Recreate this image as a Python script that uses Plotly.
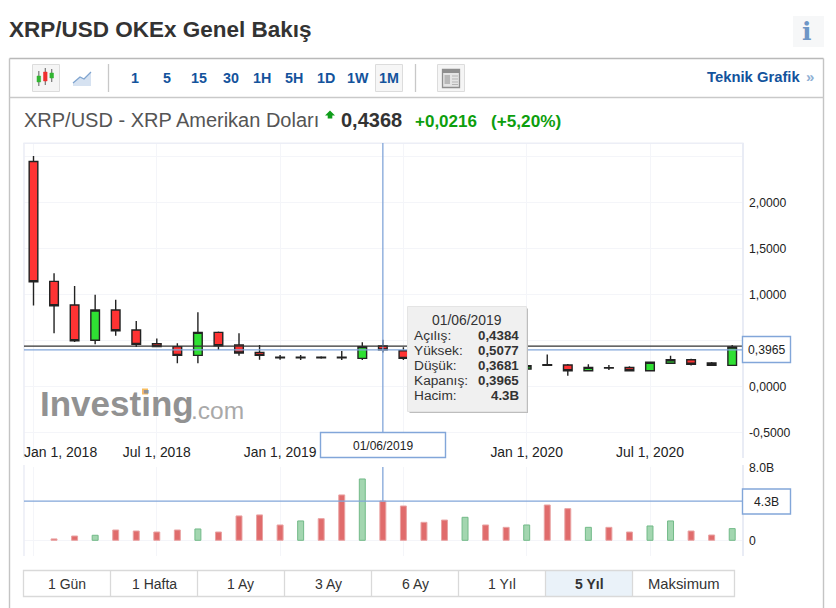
import plotly.graph_objects as go

W, H = 836, 608
BLUE = "#82a6d9"
NAVY = "#13539c"

# ---- data -------------------------------------------------------------
months = ["Jan 2018","Feb 2018","Mar 2018","Apr 2018","May 2018","Jun 2018","Jul 2018","Aug 2018","Sep 2018",
          "Oct 2018","Nov 2018","Dec 2018","Jan 2019","Feb 2019","Mar 2019","Apr 2019","May 2019","Jun 2019",
          "Jul 2019","Aug 2019","Sep 2019","Oct 2019","Nov 2019","Dec 2019","Jan 2020","Feb 2020","Mar 2020",
          "Apr 2020","May 2020","Jun 2020","Jul 2020","Aug 2020","Sep 2020","Oct 2020","Nov 2020"]
opens = [2.445,1.142,0.885,0.501,0.830,0.613,0.464,0.432,0.337,0.587,0.450,0.370,0.318,0.312,0.318,0.318,0.305,0.4384,
         0.388,0.325,0.270,0.255,0.300,0.240,0.189,0.236,0.232,0.170,0.203,0.206,0.170,0.251,0.290,0.254,0.229]
highs = [2.505,1.229,1.091,0.997,0.942,0.711,0.522,0.468,0.805,0.598,0.577,0.450,0.341,0.341,0.328,0.385,0.479,0.5077,
         0.425,0.345,0.300,0.320,0.310,0.250,0.243,0.348,0.243,0.240,0.232,0.218,0.262,0.333,0.301,0.265,0.450]
lows  = [0.879,0.577,0.482,0.457,0.551,0.428,0.432,0.251,0.251,0.395,0.333,0.290,0.290,0.287,0.300,0.287,0.287,0.3681,
         0.287,0.240,0.225,0.225,0.205,0.175,0.189,0.225,0.115,0.170,0.178,0.170,0.170,0.251,0.228,0.229,0.229]
closes= [1.138,0.877,0.497,0.830,0.605,0.457,0.432,0.337,0.587,0.442,0.363,0.337,0.312,0.318,0.312,0.312,0.432,0.3965,
         0.305,0.270,0.255,0.290,0.240,0.195,0.225,0.230,0.170,0.207,0.200,0.170,0.262,0.290,0.240,0.229,0.428]
volumes = [None,0.15,0.47,0.55,1.13,1.02,0.91,1.13,1.24,0.91,2.67,2.78,1.68,2.12,2.37,4.97,6.72,4.3,3.76,1.97,2.22,2.52,
           1.68,1.42,1.68,3.87,3.47,1.42,1.42,0.91,1.57,2.12,1.02,0.58,1.28]
price_ticks = [-0.5,0.0,0.5,1.0,1.5,2.0,2.5]
price_labels = ["-0,5000","0,0000","","1,0000","1,5000","2,0000",""]
time_ticks = ["Jan 2018","Jul 2018","Jan 2019","Jul 2019","Jan 2020","Jul 2020"]
time_labels = ["","Jul 1, 2018","Jan 1, 2019","","Jan 1, 2020","Jul 1, 2020"]
volume_ticks = [0,8]
volume_labels = ["0","8.0B"]
last_price = 0.4368
cursor_month = "Jun 2019"
cursor_close = 0.3965
cursor_volume = 4.3
intervals = ["1","5","15","30","1H","5H","1D","1W","1M"]
ranges = ["1 Gün","1 Hafta","1 Ay","3 Ay","6 Ay","1 Yıl","5 Yıl","Maksimum"]
tooltip_rows = [("Açılış:","0,4384"),("Yüksek:","0,5077"),("Düşük:","0,3681"),("Kapanış:","0,3965"),("Hacim:","4.3B")]

# ---- helpers ----------------------------------------------------------
px = lambda x: x / W
py = lambda y: 1 - y / H
shapes, annos = [], []

def rect(x0, y0, x1, y1, fill="rgba(0,0,0,0)", line="rgba(0,0,0,0)", width=1, layer="above"):
    shapes.append(dict(type="rect", xref="paper", yref="paper", x0=px(x0), x1=px(x1), y0=py(y0), y1=py(y1),
                       fillcolor=fill, line=dict(color=line, width=width), layer=layer))

def seg(x0, y0, x1, y1, color, width=1, layer="above"):
    shapes.append(dict(type="line", xref="paper", yref="paper", x0=px(x0), x1=px(x1), y0=py(y0), y1=py(y1),
                       line=dict(color=color, width=width), layer=layer))

def path(points, fill="rgba(0,0,0,0)", line="rgba(0,0,0,0)", width=1, close=True, layer="above"):
    d = "M" + " L".join(f"{px(x):.5f},{py(y):.5f}" for x, y in points) + (" Z" if close else "")
    shapes.append(dict(type="path", xref="paper", yref="paper", path=d, fillcolor=fill,
                       line=dict(color=line, width=width), layer=layer))

def text(x, y, s, size=13, color="#333", anchor="left", bold=False, family="Liberation Sans"):
    annos.append(dict(xref="paper", yref="paper", x=px(x), y=py(y), text=f"<b>{s}</b>" if bold else s,
                      showarrow=False, xanchor=anchor, yanchor="middle", borderpad=0, borderwidth=0,
                      font=dict(family=family, size=size, color=color)))

# ---- figure -----------------------------------------------------------
fig = go.Figure()
fig.add_trace(go.Candlestick(
    x=months, open=opens, high=highs, low=lows, close=closes, whiskerwidth=0, xaxis="x", yaxis="y",
    increasing=dict(line=dict(color="#222", width=1.4), fillcolor="#2fe033"),
    decreasing=dict(line=dict(color="#222", width=1.4), fillcolor="#ff3333"), hoverinfo="skip"))
bar_fill = ["#a3d6b0" if c >= o else "#e06c6c" for o, c in zip(opens, closes)]
bar_edge = ["#72ba88" if c >= o else "#e9a3a3" for o, c in zip(opens, closes)]
fig.add_trace(go.Bar(x=months, y=volumes, xaxis="x2", yaxis="y2", width=0.29, hoverinfo="skip",
                     marker=dict(color=bar_fill, line=dict(color=bar_edge, width=1))))

# axis extents in pixels
L, R = 24.0, 743.0
T1, B1 = 143.0, 458.0
T2, B2 = 467.0, 556.0
Z1, S1 = 386.4, 92.0      # pixel of price 0, px per unit
Z2, S2 = 540.3, 9.125     # pixel of volume 0, px per unit
I0, SI = 33.5, 20.55      # pixel of first month, px per month
xr = [(L - I0) / SI, (R - I0) / SI]

grid = "#f4f5f9"
xcommon = dict(type="category", categoryorder="array", categoryarray=months, range=xr, domain=[px(L), px(R)],
               rangeslider=dict(visible=False), showline=False, zeroline=False, showgrid=True, gridcolor=grid,
               gridwidth=1, ticks="", fixedrange=True, automargin=False)
fig.update_layout(
    width=W, height=H, margin=dict(l=0, r=0, t=0, b=0), paper_bgcolor="white", plot_bgcolor="white",
    showlegend=False, boxgap=0.58, boxgroupgap=0,
    font=dict(family="Liberation Sans", size=12, color="#222"),
    xaxis=dict(**xcommon, anchor="y", tickvals=time_ticks, ticktext=time_labels, tickfont=dict(size=13.9, color="#222"),
               ticklabelposition="inside", ticklabelstandoff=-5),
    yaxis=dict(domain=[py(B1), py(T1)], range=[(Z1 - B1) / S1, (Z1 - T1) / S1], side="right", anchor="x",
               tickvals=price_ticks, ticktext=price_labels, tickfont=dict(size=12.2, color="#222"),
               showgrid=True, gridcolor=grid, zeroline=False, showline=False, ticks="", ticklabelstandoff=5,
               fixedrange=True, automargin=False),
    xaxis2=dict(**xcommon, anchor="y2", tickvals=time_ticks, showticklabels=False),
    yaxis2=dict(domain=[py(B2), py(T2)], range=[(Z2 - B2) / S2, (Z2 - T2) / S2], side="right", anchor="x2",
                tickvals=volume_ticks, ticktext=volume_labels, tickfont=dict(size=12.2, color="#222"),
                showgrid=True, gridcolor=grid, zeroline=False, showline=False, ticks="", ticklabelstandoff=5,
                fixedrange=True, automargin=False),
)

# frame and panel chrome
seg(9.5, 58.5, 823.5, 58.5, "#b9b9b9", 1.4)
seg(9.5, 58.5, 9.5, 608, "#c4c4c4", 1.4)
seg(823.5, 58.5, 823.5, 608, "#c4c4c4", 1.4)
seg(9.5, 97.5, 823.5, 97.5, "#c9c9c9", 1.4)
rect(24, 143, 743, 143.5, line="#eceef6", width=1.2)
for (t, b) in ((T1, B1), (T2 - 2, B2)):
    seg(24, t, 24, b, "#eceef6", 1.6)
    seg(743, t, 743, b, "#e9ecf5", 2)

# title, info button
text(9, 29, "XRP/USD OKEx Genel Bakış", 22.5, "#333", bold=True)
rect(793, 16, 824, 47, fill="#f6f7f8")
text(806.5, 31, "i", 25, "#6e96c6", "center", bold=True, family="DejaVu Serif")

# toolbar
rect(32.5, 64.5, 59.5, 91.5, fill="#f5f5f5", line="#dcdcdc")
for cx, t, b, wt, wb, col in ((38.8, 76, 82, 71, 86, "#31b531"), (45.3, 72, 81, 68, 85, "#ef2f2f"), (51.7, 73, 78, 69, 82, "#31b531")):
    seg(cx, wt, cx, wb, "#777", 1.2)
    rect(cx - 1.8, t, cx + 1.8, b, fill=col, line=col, width=0.5)
path([(73, 83), (80, 77), (84, 79), (91, 72), (91, 86), (73, 86)], fill="#d6e2f1")
path([(73, 83), (80, 77), (84, 79), (91, 72)], line="#7fa4cf", width=1.3, close=False)
seg(108.5, 64, 108.5, 92, "#c8c8c8", 1.3)
seg(415.5, 64, 415.5, 92, "#c8c8c8", 1.3)
rect(375.5, 64.5, 402.5, 91.5, fill="#f6f6f6", line="#dcdcdc")
rect(437.5, 64.5, 464.5, 91.5, fill="#f5f5f5", line="#dcdcdc")
rect(442.5, 69.5, 459.5, 87.5, fill="#e4e4e4", line="#8e8e8e", width=1.3)
rect(443, 70, 459, 73, fill="#8e8e8e")
rect(444.5, 75, 450, 84, fill="#b8b8b8")
for yy in (76, 79, 82, 84.5):
    seg(452, yy, 458, yy, "#b5b5b5", 1)
for lbl, cx in zip(intervals, (135, 167, 199, 231, 262, 294, 326, 358, 389)):
    text(cx, 78, lbl, 14.3, NAVY, "center", bold=True)
text(800, 76.5, "Teknik Grafik", 14.8, NAVY, "right", bold=True)
text(810, 76, "»", 15, "#8fb0d4", "center", bold=True)

# quote line
text(24, 120, "XRP/USD - XRP Amerikan Doları", 20, "#555")
path([(325, 115.5), (330, 110.5), (335, 115.5), (332.3, 115.5), (332.3, 118.5), (327.7, 118.5), (327.7, 115.5)], fill="#0f9d1a")
text(341, 120.5, "0,4368", 20, "#333", bold=True)
text(415, 121, "+0,0216", 17, "#0d9e0d", bold=True)
text(491, 121, "(+5,20%)", 17.2, "#0d9e0d", bold=True)

# first tick label sits against the left edge
text(24, 451.5, "Jan 1, 2018", 14, "#222")

# watermark
text(40, 403, "Investing", 35, "#929292", bold=True)
text(191, 410, ".com", 24.5, "#a9a9a9")
rect(142, 388.5, 148, 394.5, fill="#f6bd60")

# crosshair, last price
d = dict(layer="above")
shapes += [
    dict(type="line", xref="x", yref="paper", x0=cursor_month, x1=cursor_month, y0=py(432), y1=py(T1),
         line=dict(color=BLUE, width=1.3), **d),
    dict(type="line", xref="x", yref="paper", x0=cursor_month, x1=cursor_month, y0=py(Z2 - cursor_volume * S2), y1=py(T2),
         line=dict(color=BLUE, width=1.3), **d),
    dict(type="line", xref="paper", yref="y", x0=px(L), x1=px(R), y0=last_price, y1=last_price,
         line=dict(color="#333", width=1.2), **d),
    dict(type="line", xref="paper", yref="y", x0=px(L), x1=px(R), y0=cursor_close, y1=cursor_close,
         line=dict(color=BLUE, width=1.3), **d),
    dict(type="line", xref="paper", yref="y2", x0=px(L), x1=px(R), y0=cursor_volume, y1=cursor_volume,
         line=dict(color=BLUE, width=1.3), **d),
]

# cursor value boxes
rect(742.5, 336.5, 790.5, 362.5, fill="white", line=BLUE, width=1.4)
text(766, 350, "0,3965", 12.2, "#222", "center")
rect(742.5, 489, 790.5, 514, fill="white", line=BLUE, width=1.4)
text(766, 502, "4.3B", 12.2, "#222", "center")
rect(320.5, 432.5, 445.5, 457.5, fill="white", line=BLUE, width=1.4)
text(383, 446, "01/06/2019", 12, "#222", "center")

# tooltip
rect(409.5, 308.5, 528, 413, fill="#bdbdbd")
rect(407.5, 306.5, 526.5, 411.5, fill="#f0f0f0", line="#e4e4e4")
text(466.5, 320, "01/06/2019", 13.9, "#333", "center")
for i, (k, v) in enumerate(tooltip_rows):
    text(414, 335 + i * 15, k, 13.7, "#333")
    text(519, 335 + i * 15, v, 13.3, "#333", "right", bold=True)

# range buttons
edges = [23.5, 110.5, 197.5, 284.5, 371.5, 458.5, 545.5, 632.5, 734.5]
rect(545.5, 571, 632.5, 596, fill="#eaf2f9")
rect(23.5, 570.5, 734.5, 596.5, line="#d9d9d9", width=1.3)
for e in edges[1:-1]:
    seg(e, 570.5, e, 596.5, "#d9d9d9", 1.3)
for i, lbl in enumerate(ranges):
    cx = (edges[i] + edges[i + 1]) / 2
    text(cx, 584, lbl, 14.8 if lbl == "Maksimum" else 14, "#333", "center", bold=lbl == "5 Yıl")

fig.update_layout(shapes=shapes, annotations=annos)
fig.write_html("out.html", config=dict(displayModeBar=False, responsive=False),
               post_script="document.body.style.margin='0';document.body.style.overflow='hidden';")
